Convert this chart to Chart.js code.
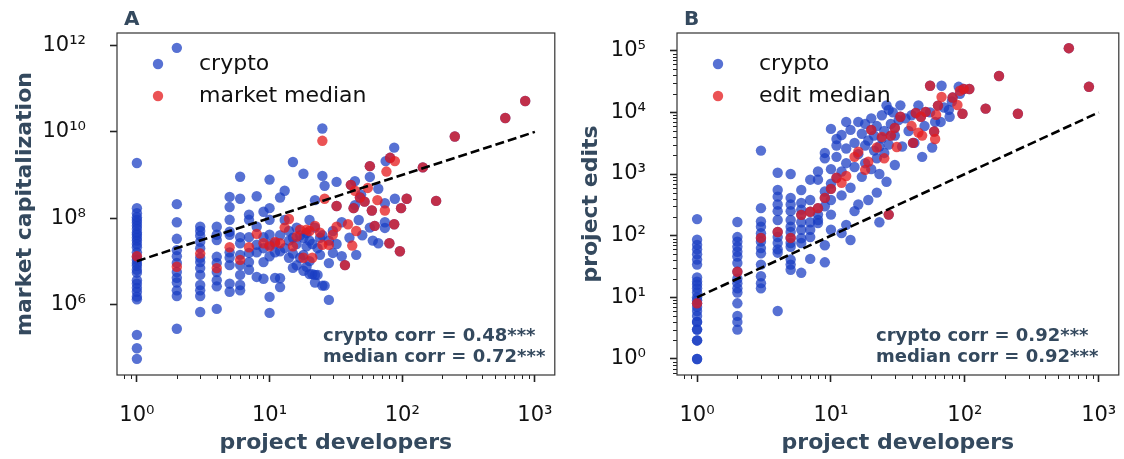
<!DOCTYPE html>
<html>
<head>
<meta charset="utf-8">
<script src="https://cdn.jsdelivr.net/npm/chart.js@4.4.1/dist/chart.umd.min.js"></script>
<style>
html,body{margin:0;padding:0;background:#ffffff;overflow:hidden;}
#p1{position:absolute;left:0;top:0;}
#p2{position:absolute;left:560px;top:0;}
</style>
</head>
<body>
<canvas id="p1" width="560" height="459"></canvas>
<canvas id="p2" width="564" height="459"></canvas>
<script>
// ---------- DATA ----------
const xMajorTicks = [1, 10, 100, 1000];
const yMajorTicksMarket = [1e6, 1e8, 1e10, 1e12];
const yMajorTicksEdits = [1, 10, 100, 1000, 1e4, 1e5];

const cryptoMarket = [
 [1,1.9e9],[1,1.7e8],[1,1.3e8],[1,1.05e8],[1,9e7],[1,7.8e7],[1,6.6e7],[1,5.6e7],[1,4.6e7],[1,4.1e7],[1,3.5e7],[1,3e7],[1,2.5e7],[1,2.1e7],[1,1.6e7],[1,1.25e7],[1,1.07e7],[1,9e6],[1,7.8e6],[1,6.3e6],[1,5.4e6],[1,3.6e6],[1,3e6],[1,2.4e6],[1,1.95e6],[1,1.5e6],[1,1.3e6],[1,1.95e5],[1,9.5e4],[1,5.4e4],
 [2,8.9e11],[2,2.1e8],[2,8e7],[2,3.3e7],[2,1.8e7],[2,1.3e7],[2,9.1e6],[2,5.6e6],[2,4.1e6],[2,3.2e6],[2,2.1e6],[2,1.55e6],[2,2.7e5],
 [3,6.3e7],[3,5e7],[3,3.9e7],[3,2.8e7],[3,2e7],[3,1.2e7],[3,9.5e6],[3,6.9e6],[3,4.8e6],[3,2.8e6],[3,2.1e6],[3,1.55e6],[3,6.6e5],
 [4,6.3e7],[4,4.1e7],[4,3.1e7],[4,1.26e7],[4,9.1e6],[4,5.6e6],[4,3.6e6],[4,2.6e6],[4,7.8e5],
 [5,3.1e8],[5,1.8e8],[5,9.1e7],[5,4.8e7],[5,4.1e7],[5,1.6e7],[5,1.2e7],[5,8.1e6],[5,3e6],[5,1.95e6],
 [6,9.1e8],[6,2.8e8],[6,3.6e7],[6,2.6e7],[6,1.4e7],[6,8.1e6],[6,4.8e6],[6,2.8e6],[6,2.1e6],
 [7,1.2e8],[7,9.1e7],[7,3.6e7],[7,1.55e7],[7,9.5e6],[7,6.3e6],
 [8,3.2e8],[8,6.3e7],[8,2.4e7],[8,1.6e7],[8,4.3e6],
 [9,1.4e8],[9,3.6e7],[9,2e7],[9,9.5e6],[9,3.9e6],
 [10,7.8e8],[10,1.7e8],[10,9.1e7],[10,4.1e7],[10,2.4e7],[10,1.3e7],[10,1.48e6],[10,6.3e5],
 [11,2.6e7],[11,1.6e7],[11,4.1e6],[12,3e8],[12,4e6],[12,2.5e6],[12,1.7e7],[12,4e7],
 [13,4.3e8],[13,9e7],[13,2e7],[14,5e7],[14,3e7],[14,1.2e7],[15,2e9],[15,7e6],[15,3.5e7],[15,1.5e7],
 [16,6e7],[16,2.5e7],[16,8e6],[17,4e7],[17,1.2e7],[18,1.07e9],[18,3.5e7],[18,6e6],[18,1.4e7],
 [19,7.4e6],[19,2.2e7],[19,4.5e7],[20,9e7],[20,3e7],[20,5e6],[20,1e7],[21,5e6],[21,2.5e7],
 [22,2.6e8],[22,3.2e6],[22,4.8e6],[22,6e7],[23,4.8e6],[23,2e7],[24,3.5e7],[24,1.4e7],
 [25,1.2e10],[25,9.5e8],[25,2.7e6],[25,4e7],[26,5.6e8],[26,2.7e6],[28,9e6],[28,1.26e6],[28,3e7],
 [30,1.55e7],[30,5e7],[32,6.9e8],[32,2.5e7],[35,8e7],[35,1.3e7],[40,3.5e7],[44,7.2e8],[44,2e8],
 [45,1.4e7],[47,9e7],[49,3.5e8],[50,4e7],[57,9e8],[57,6e7],[60,3e7],[66,4.8e8],[66,2.6e7],
 [74,2.2e8],[74,8e7],[74,5.9e7],[75,2.1e9],[87,4.3e9],[88,2.8e8],
 [41,5.9e8],[32,1.9e8],[48,3e8],[52,2.4e8],[43,1.7e8],[59,1.5e8],[57,1.6e9],[81,2.5e9],[98,1.7e8],
 [108,2.8e8],[143,1.5e9],[62,6.6e7],[87,7.2e7],[80,2.6e7],[96,1.7e7],[37,8.1e6],[180,2.5e8],
 [249,7.8e9],[598,2.1e10],[845,5.2e10]
];
const medianMarket = [
 [1,1.3e7],[2,7.4e6],[3,1.5e7],[4,6.9e6],[5,2.1e7],[6,1.07e7],[7,2.1e7],[8,4.3e7],[9,2.6e7],[10,2.2e7],
 [11,2.8e7],[12,2.6e7],[13,6e7],[14,9.5e7],[15,2.2e7],[16,3.7e7],[17,5.4e7],[19,5.4e7],[20,5e7],
 [22,6.6e7],[24,4.6e7],[25,2.4e7],[28,2.4e7],[30,4.1e7],[32,6.3e7],[39,7.2e7],[42,2.3e7],[37,8.1e6],
 [18,1.2e7],[21,1.2e7],[41,5.9e8],[32,1.9e8],[26,2.8e8],[44,4.3e8],[55,5e8],[48,3e8],[52,2.4e8],
 [65,2.6e8],[43,1.7e8],[59,1.5e8],[74,1.5e8],[57,1.6e9],[76,1.2e9],[81,2.5e9],[88,2.1e9],[98,1.7e8],
 [108,2.8e8],[143,1.5e9],[62,6.6e7],[87,7.2e7],[45,5e7],[80,2.6e7],[96,1.7e7],[25,6.2e9],[180,2.5e8],
 [249,7.8e9],[598,2.1e10],[845,5.2e10]
];
const fitMarket = [[1,1e7],[1000,1e10]];

const cryptoEdits = [
 [1,186],[1,86],[1,71],[1,60],[1,50],[1,41],[1,34],[1,21],[1,18],[1,16],[1,14],[1,12],[1,10],[1,9],[1,8],[1,7],[1,6],[1,5],[1,4],[1,4],[1,3],[1,3],[1,2],[1,2],[1,1],[1,1],
 [2,167],[2,95],[2,80],[2,66],[2,55],[2,46],[2,36],[2,26],[2,20],[2,17],[2,14],[2,12],[2,8],[2,5],[2,4],[2,3],
 [3,2400],[3,280],[3,170],[3,140],[3,110],[3,92],[3,80],[3,63],[3,52],[3,34],[3,22],[3,17],[3,14],
 [4,1050],[4,550],[4,430],[4,320],[4,250],[4,180],[4,115],[4,95],[4,76],[4,60],[4,53],[4,6],
 [5,1000],[5,410],[5,320],[5,250],[5,180],[5,140],[5,115],[5,92],[5,76],[5,66],[5,41],[5,34],[5,28],
 [6,550],[6,340],[6,265],[6,218],[6,165],[6,125],[6,91],[6,76],[6,25],
 [7,810],[7,380],[7,245],[7,165],[7,125],[7,95],[7,42],
 [8,1100],[8,810],[8,280],[8,220],[8,180],[8,160],
 [9,2200],[9,1800],[9,520],[9,410],[9,300],[9,70],[9,37],
 [10,5400],[10,1200],[10,700],[10,575],[10,380],[10,220],[10,125],
 [11,1900],[11,870],[11,2900],[11,3700],[12,4300],[12,1100],[12,450],[12,110],[13,2600],[13,1500],[13,150],[13,7000],
 [14,5200],[14,600],[14,85],[15,3200],[15,1300],[15,250],[16,7000],[16,2100],[16,320],[17,4500],[17,900],
 [18,6500],[18,2900],[18,1500],[19,3500],[19,380],[20,8000],[20,1200],[20,5200],[21,2400],[21,4200],
 [22,500],[22,6000],[22,1800],[23,165],[23,2800],[23,1000],[24,9000],[24,3800],[25,2200],[25,5000],
 [26,13000],[26,750],[27,11000],[27,3000],[27,220],[28,6500],[29,10000],[30,4200],[30,1400],
 [32,7500],[33,13000],[34,2800],[36,8000],[38,5000],[40,9000],[42,3200],[45,13000],[48,1900],
 [50,6000],[55,10000],[57,2700],[60,7000],[66,7000],[67,27000],[70,12000],[76,11000],[77,8500],
 [80,15000],[90,26000],[92,20000],
 [55,27000],[59,4900],[81,17400],[98,24000],[108,24000],[96,9500],[143,11500],[180,39000],[249,9500],
 [598,110000],[845,26000],[63,12900],[51,10200],[43,9800],[33,8500],[47,8500],[28,4200],[30,5600],[41,3200]
];
const medianEdits = [
 [1,8],[2,26],[3,92],[4,115],[5,92],[6,218],[7,245],[8,280],[9,410],[10,575],[11,870],[12,720],[13,930],
 [15,1900],[16,2300],[18,1170],[19,1580],[20,5200],[22,2700],[24,4000],[25,1800],[27,220],[28,4200],
 [30,5600],[31,2750],[33,8500],[40,6000],[41,3200],[43,9800],[45,4700],[47,8500],[48,4200],[51,10200],
 [55,27000],[59,4900],[60,3700],[61,9100],[63,12900],[67,17800],[81,17400],[88,13200],[92,22400],
 [98,24000],[108,24000],[96,9500],[143,11500],[180,39000],[249,9500],[598,110000],[845,26000]
];
const fitEdits = [[1,10],[1000,1e4]];

const legendMarket = ['crypto', 'market median'];
const legendEdits = ['crypto', 'edit median'];
const corrMarket = ['crypto corr = 0.48***', 'median corr = 0.72***'];
const corrEdits = ['crypto corr = 0.92***', 'median corr = 0.92***'];

// ---------- STYLE ----------
const BLUE = 'rgba(25,60,195,0.73)';
const RED = 'rgba(228,26,28,0.75)';
const TXT = '#34495e';
const FONT = '"DejaVu Sans", sans-serif';
const RADIUS = 5.2;
const SUP = {'0':'\u2070','1':'\u00b9','2':'\u00b2','3':'\u00b3','4':'\u2074','5':'\u2075','6':'\u2076','7':'\u2077','8':'\u2078','9':'\u2079','-':'\u207b'};

function decLabel(v) {
  const e = Math.log10(v), r = Math.round(e);
  if (Math.abs(e - r) > 1e-6) return '';
  return '10' + String(r).split('').map(c => SUP[c]).join('');
}
function pts(arr) { return arr.map(p => ({x: p[0], y: p[1]})); }

const deco = {
  id: 'deco',
  afterDraw(chart, args, o) {
    const ctx = chart.ctx, a = chart.chartArea;
    ctx.save();
    // minor ticks
    ctx.strokeStyle = '#222'; ctx.lineWidth = 1;
    const minor = (s, hor) => {
      const lo = Math.floor(Math.log10(s.min)), hi = Math.ceil(Math.log10(s.max));
      for (let k = lo; k <= hi; k++) for (let m = 2; m <= 9; m++) {
        const v = m * Math.pow(10, k);
        if (v < s.min || v > s.max) continue;
        const p = Math.round(s.getPixelForValue(v)) + 0.5;
        ctx.beginPath();
        if (hor) { ctx.moveTo(p, a.bottom); ctx.lineTo(p, a.bottom + 4); }
        else { ctx.moveTo(a.left, p); ctx.lineTo(a.left - 4, p); }
        ctx.stroke();
      }
    };
    minor(chart.scales.x, true);
    if (o.minorY) minor(chart.scales.y, false);
    // frame
    ctx.strokeStyle = '#333'; ctx.lineWidth = 1.2;
    ctx.strokeRect(a.left, a.top, a.right - a.left, a.bottom - a.top);
    // panel letter
    ctx.fillStyle = TXT; ctx.font = 'bold 20px ' + FONT;
    ctx.textAlign = 'left'; ctx.textBaseline = 'alphabetic';
    ctx.fillText(o.letter, a.left + 7, 25);
    // legend
    const ds = chart.data.datasets.filter(d => !d.showLine);
    ds.forEach((d, i) => {
      const y = a.top + 31 + i * 32;
      ctx.beginPath(); ctx.arc(a.left + 41, y, RADIUS, 0, Math.PI * 2);
      ctx.fillStyle = d.backgroundColor; ctx.fill();
      ctx.fillStyle = '#111'; ctx.font = '22px ' + FONT; ctx.textBaseline = 'middle';
      ctx.fillText(d.label, a.left + 82, y);
    });
    // correlation text
    ctx.fillStyle = TXT; ctx.font = 'bold 18px ' + FONT; ctx.textBaseline = 'middle';
    o.corr.forEach((t, i) => ctx.fillText(t, a.left + o.corrDx, 336 + i * 21));
    ctx.restore();
  }
};

function makeChart(id, cfg) {
  const tickFont = {family: FONT, size: 21};
  const titleFont = {family: FONT, size: 22, weight: 'bold'};
  return new Chart(document.getElementById(id), {
    type: 'scatter',
    data: {
      datasets: [
        {label: cfg.legend[0], data: pts(cfg.crypto), backgroundColor: BLUE, pointBackgroundColor: BLUE,
         pointRadius: RADIUS, pointBorderWidth: 0, pointHoverRadius: RADIUS, order: 3},
        {label: cfg.legend[1], data: pts(cfg.median), backgroundColor: RED, pointBackgroundColor: RED,
         pointRadius: RADIUS, pointBorderWidth: 0, pointHoverRadius: RADIUS, order: 2},
        {label: 'fit', data: pts(cfg.fit), showLine: true, borderColor: '#000', borderWidth: 2.6,
         borderDash: [9, 4], pointRadius: 0, fill: false, order: 1}
      ]
    },
    options: {
      responsive: false, animation: false, devicePixelRatio: 1,
      layout: {padding: {top: 33, right: cfg.padRight, left: 0, bottom: 0}},
      plugins: {legend: {display: false}, tooltip: {enabled: false}, title: {display: false},
        deco: {letter: cfg.letter, corr: cfg.corr, corrDx: cfg.corrDx, minorY: cfg.minorY}},
      scales: {
        x: {
          type: 'logarithmic', min: 0.708, max: 1412.5, bounds: 'data',
          afterBuildTicks: s => { s.ticks = xMajorTicks.map(v => ({value: v})); },
          afterFit: s => { s.height = 84; s.paddingLeft = 0; s.paddingRight = 0; },
          grid: {display: true, drawOnChartArea: false, drawTicks: true, tickLength: 7, tickWidth: 1.6, tickColor: '#222'},
          border: {display: false},
          ticks: {autoSkip: false, maxRotation: 0, minRotation: 0, padding: 21, font: tickFont, color: '#111',
                  callback: v => decLabel(v)},
          title: {display: true, text: 'project developers', font: titleFont, color: TXT, padding: {top: 0, bottom: 3}}
        },
        y: {
          type: 'logarithmic', min: cfg.yMin, max: cfg.yMax, bounds: 'data',
          afterBuildTicks: s => { s.ticks = cfg.yTicks.map(v => ({value: v})); },
          afterFit: s => { s.width = 117; s.paddingTop = 0; s.paddingBottom = 0; },
          grid: {display: true, drawOnChartArea: false, drawTicks: true, tickLength: 7, tickWidth: 1.6, tickColor: '#222'},
          border: {display: false},
          ticks: {autoSkip: false, padding: 24, font: tickFont, color: '#111', callback: v => decLabel(v)},
          title: {display: true, text: cfg.yTitle, font: titleFont, color: TXT, padding: {top: cfg.yTitlePad, bottom: 0}}
        }
      }
    },
    plugins: [deco]
  });
}

makeChart('p1', {
  crypto: cryptoMarket, median: medianMarket, fit: fitMarket, legend: legendMarket, corr: corrMarket,
  letter: 'A', corrDx: 206, minorY: false, yMin: 22800, yMax: 1.97e12, yTicks: yMajorTicksMarket,
  yTitle: 'market capitalization', yTitlePad: 12, padRight: 1
});
makeChart('p2', {
  crypto: cryptoEdits, median: medianEdits, fit: fitEdits, legend: legendEdits, corr: corrEdits,
  letter: 'B', corrDx: 199, minorY: true, yMin: 0.55, yMax: 1.94e5, yTicks: yMajorTicksEdits,
  yTitle: 'project edits', yTitlePad: 18, padRight: 5
});
</script>
</body>
</html>
